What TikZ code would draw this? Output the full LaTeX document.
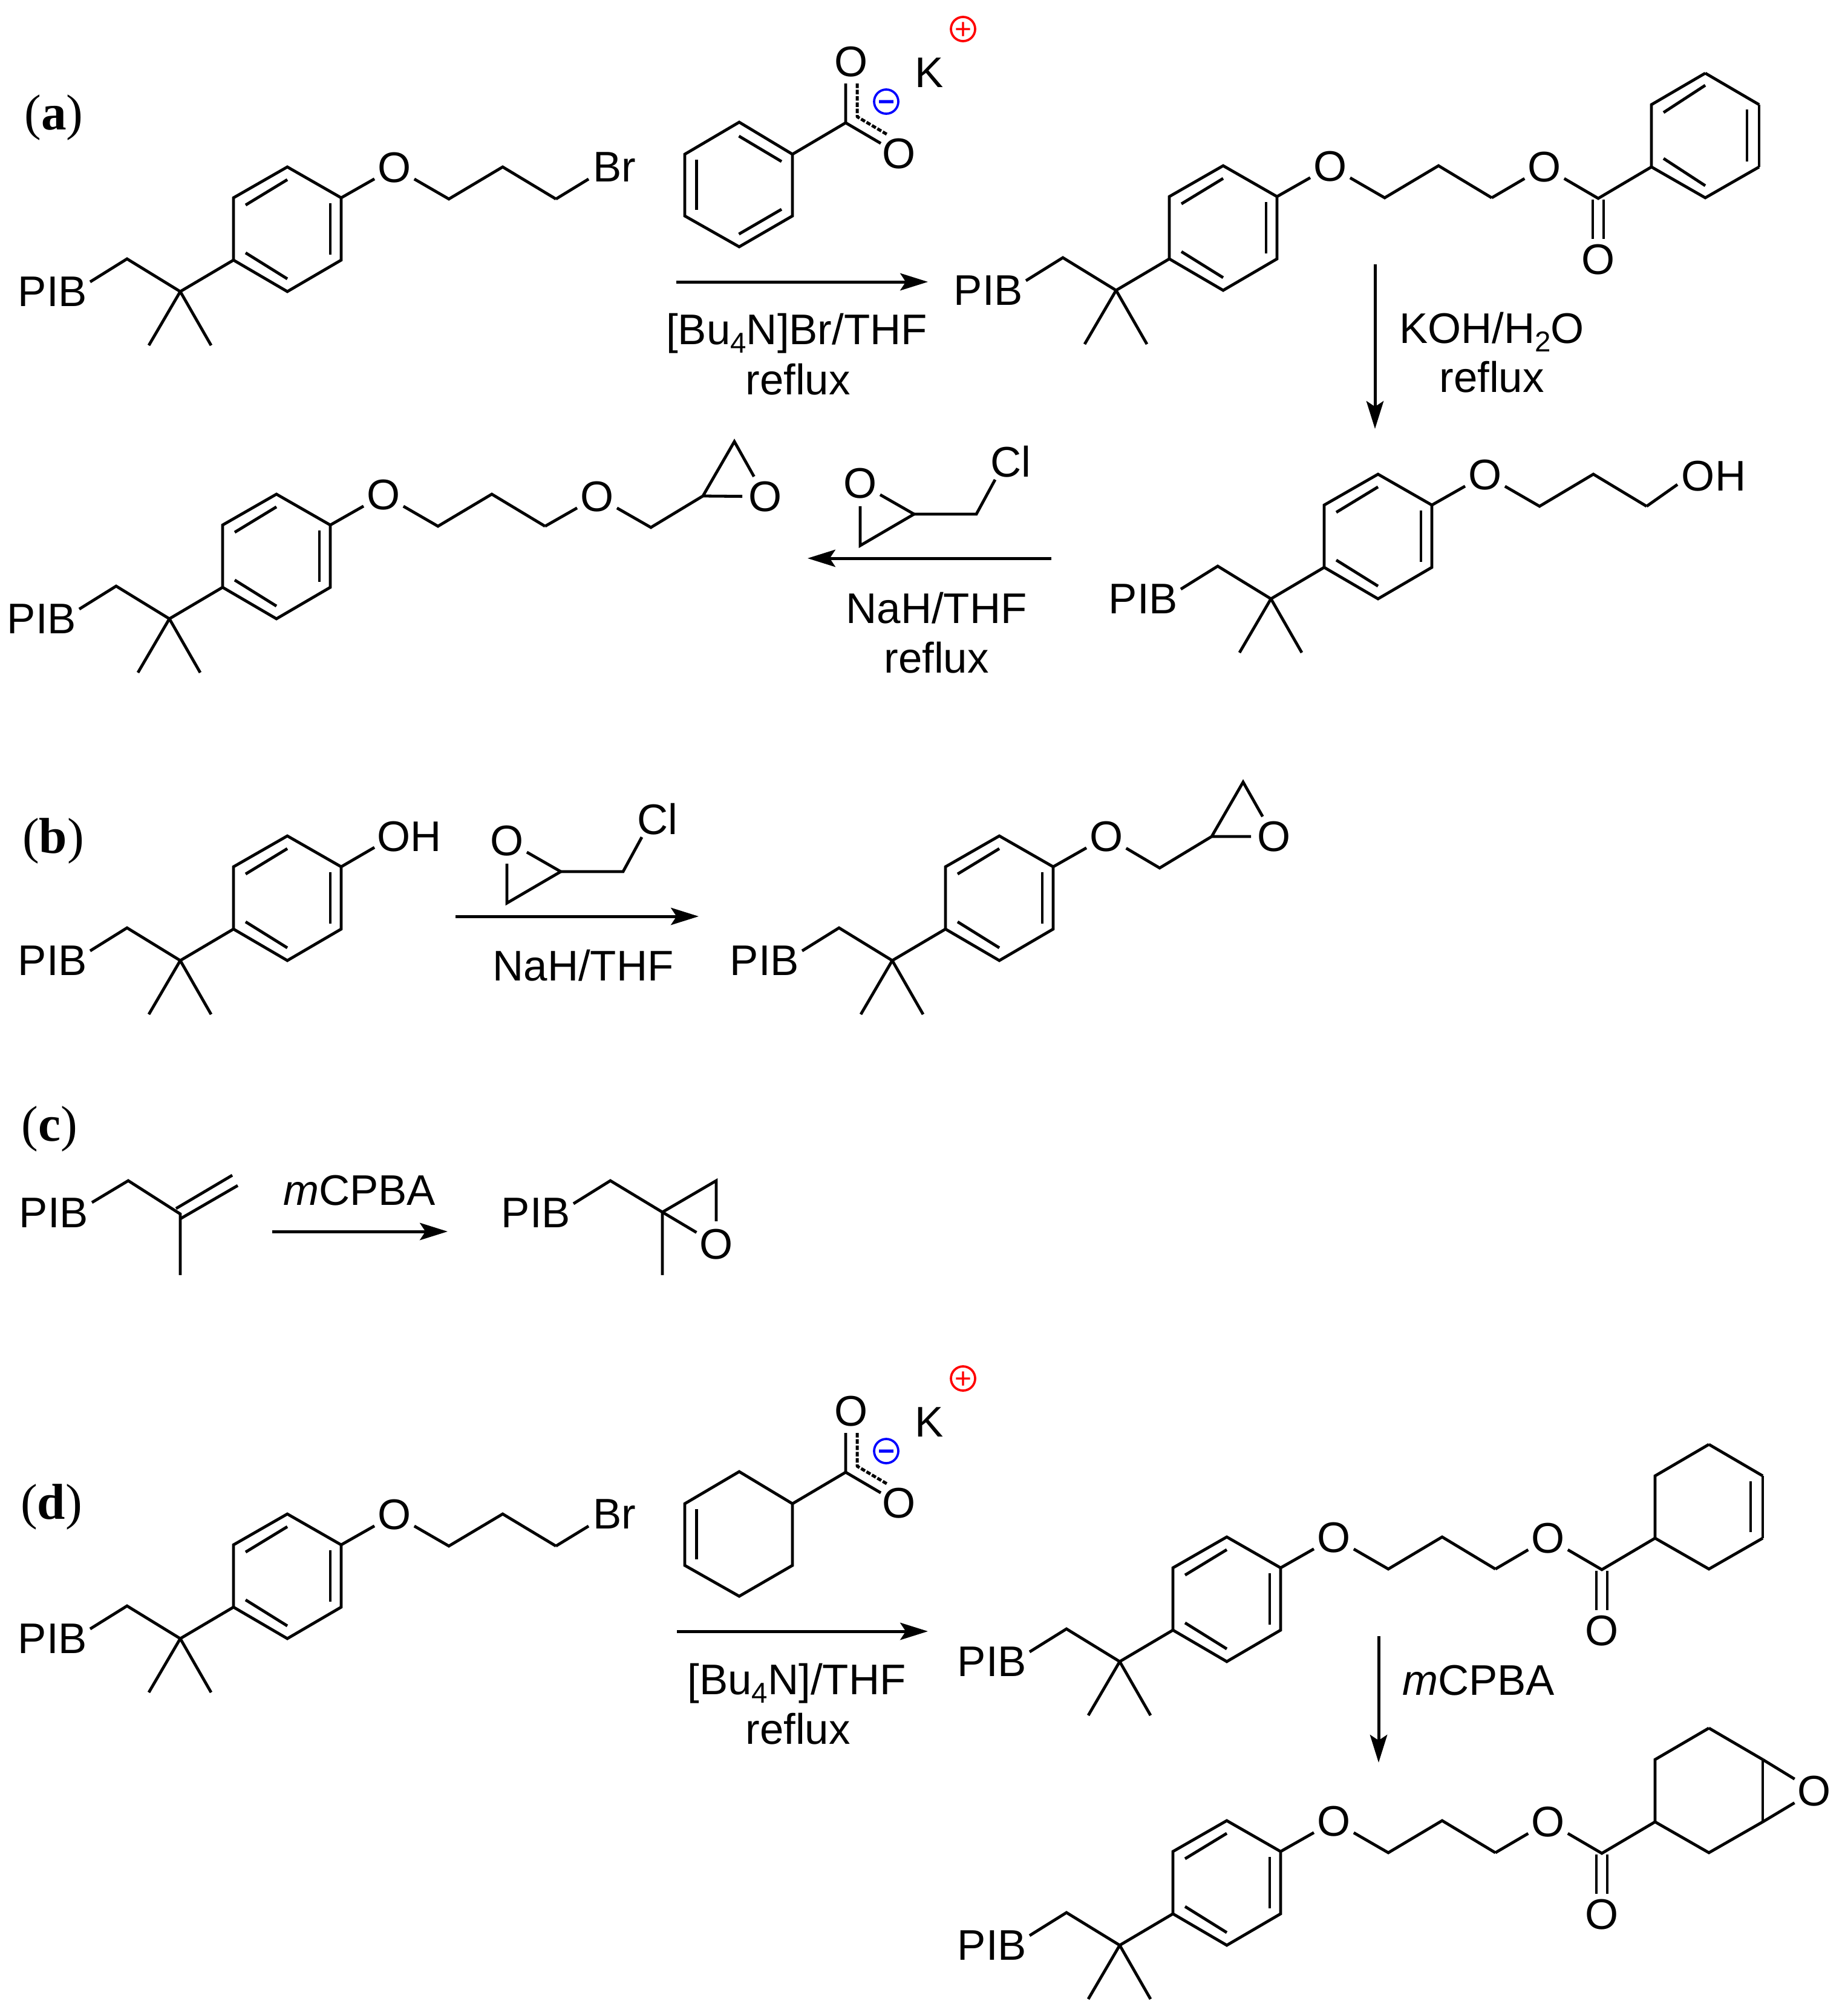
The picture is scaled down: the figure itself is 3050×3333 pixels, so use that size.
\documentclass[tikz,border=0pt]{standalone}
\usepackage{fontspec}
\setmainfont{Liberation Sans}
\newfontfamily\serifL{Liberation Serif}
\usetikzlibrary{arrows.meta}
\newcommand{\sbn}[1]{\raisebox{-0.2em}{\fontsize{11.4pt}{12pt}\selectfont #1}}
\newcommand{\chg}[1]{\makebox[0pt]{\smash{\raisebox{-0.35em}{#1}}}}
\tikzset{
  bond/.style={line width=1.15pt,line join=miter,black},
  chem/.style={font=\fontsize{17pt}{20pt}\selectfont,inner sep=0pt,text=black},
  atom/.style={chem,circle,minimum size=17.8pt},
  lab/.style={chem,rectangle},
  caption/.style={chem,anchor=base},
  part/.style={font=\fontsize{20pt}{24pt}\serifL\selectfont,inner sep=0pt},
  rxn/.style={line width=1.2pt,-{Stealth[length=11pt,width=6.8pt,inset=2.2pt]}},
  molframe/.style n args={3}{shift={(#2,#3)},name prefix=#1-},
  dashbond/.style={line width=1.2pt,dash pattern=on 1.8pt off 0.7pt,line join=round},
  poschg/.style={circle,draw=red,line width=0.9pt,text=red,minimum size=9.6pt,inner sep=0pt,
     font=\fontsize{11.5pt}{12pt}\selectfont},
  negchg/.style={circle,draw=blue,line width=0.9pt,text=blue,minimum size=9.6pt,inner sep=0pt,
     font=\fontsize{11.5pt}{12pt}\selectfont\bfseries},
}
% PIB-CH2-C(Me)2-C6H4 core, origin on the quaternary carbon
\newcommand{\corePIB}{%
  \coordinate (Q) at (0,0);
  \coordinate (M) at (-88,-54);
  \coordinate (Pe) at (-149,-16);
  \coordinate (Me1) at (-52,89);
  \coordinate (Me2) at (51,89);
  \coordinate (r1) at (88,-52);
  \coordinate (r2) at (177,0);
  \coordinate (r3) at (266,-52);
  \coordinate (r4) at (266,-155);
  \coordinate (r5) at (177,-206);
  \coordinate (r6) at (88,-155);
  \coordinate (i1) at (108,-64);
  \coordinate (i2) at (177,-21);
  \coordinate (i3) at (248,-61);
  \coordinate (i4) at (248,-146);
  \coordinate (i5) at (177,-185);
  \coordinate (i6) at (108,-143);
  \node[lab] (PIB) at (-211,0) {PIB};
  \draw[bond] (Pe) -- (M) -- (Q) -- (Me1);
  \draw[bond] (Q) -- (Me2);
  \draw[bond] (Q) -- (r1);
  \draw[bond] (r1) -- (r2) -- (r3) -- (r4) -- (r5) -- (r6) -- cycle;
  \draw[bond] (i1) -- (i2);
  \draw[bond] (i3) -- (i4);
  \draw[bond] (i5) -- (i6);
}
\newcommand{\etherO}{%
  \node[atom] (O) at (354,-205) {O};
  \draw[bond] (r4) -- (O);
}
\newcommand{\propylarm}{%
  \coordinate (c1) at (444,-153);
  \coordinate (c2) at (533,-206);
  \coordinate (c3) at (621,-153);
  \draw[bond] (O) -- (c1) -- (c2) -- (c3);
}
\newcommand{\esterarm}{%
  \node[atom] (O2) at (708,-204) {O};
  \coordinate (CO) at (797,-152);
  \node[atom] (Od) at (797,-51) {O};
  \coordinate (dl1) at (788,-150);
  \coordinate (dl2) at (788,-85);
  \coordinate (dr1) at (806,-150);
  \coordinate (dr2) at (806,-85);
  \coordinate (e1) at (885,-204);
  \coordinate (e2) at (885,-307);
  \coordinate (e3) at (974,-359);
  \coordinate (e4) at (1063,-307);
  \coordinate (e5) at (1063,-204);
  \coordinate (e6) at (974,-153);
  \draw[bond] (c3) -- (O2) -- (CO) -- (e1);
  \draw[bond] (dl1) -- (dl2);
  \draw[bond] (dr1) -- (dr2);
  \draw[bond] (e1) -- (e2) -- (e3);
  \draw[bond] (e4) -- (e5);
  \draw[bond] (e5) -- (e6) -- (e1);
}
% potassium carboxylate reagent
\newcommand{\salt}{%
  \coordinate (s1) at (1222,202);
  \coordinate (s2) at (1310,255);
  \coordinate (s3) at (1310,357);
  \coordinate (s4) at (1222,408);
  \coordinate (s5) at (1132,357);
  \coordinate (s6) at (1132,255);
  \coordinate (sC) at (1398,203);
  \coordinate (sT) at (1398,138);
  \coordinate (sL) at (1456,237);
  \coordinate (sd1) at (1417,138);
  \coordinate (sd2) at (1417,193);
  \coordinate (sd3) at (1466,222);
  \coordinate (si1) at (1151.5,264);
  \coordinate (si2) at (1151.5,347);
  \node[atom] (sO1) at (1407,102) {O};
  \node[atom] (sO2) at (1486,254) {O};
  \node[lab] (sK) at (1536,120) {K};
  \node[poschg] (sP) at (1592,48) {\chg{+}};
  \node[negchg] (sN) at (1465,168) {\chg{−}};
  \draw[bond] (s1) -- (s2) -- (s3) -- (s4) -- (s5) -- (s6) -- cycle;
  \draw[bond] (si1) -- (si2);
  \draw[bond] (s2) -- (sC) -- (sT);
  \draw[bond] (sC) -- (sL);
  \draw[dashbond] (sd1) -- (sd2) -- (sd3);
}
% epichlorohydrin, origin on its O
\newcommand{\epichloro}{%
  \node[atom] (eO) at (0,0) {O};
  \coordinate (eC) at (89,51);
  \coordinate (eM) at (192,51);
  \coordinate (eB) at (0,103);
  \coordinate (eE) at (223,-6);
  \node[lab] (eCl) at (249,-36) {Cl};
  \draw[bond] (eO) -- (eB) -- (eC) -- (eO);
  \draw[bond] (eC) -- (eM) -- (eE);
}
% glycidyl arm
\newcommand{\epoxyarm}[5]{%
  \coordinate (g1) at (#1);
  \coordinate (g2) at (#2);
  \coordinate (g3) at (#3);
  \node[atom] (g4) at (#4) {O};
  \draw[bond] (#5) -- (g1) -- (g2) -- (g3) -- (g4) -- (g2);
}
\begin{document}
\begin{tikzpicture}[x=0.24pt,y=-0.24pt]
\useasboundingbox (0,0) rectangle (3050,3333);
\fill[white] (0,0) rectangle (3050,3333);

% part labels
\node[part] (la) at (89,194) {(\textbf{a})};
\node[part] (lb) at (88,1390) {(\textbf{b})};
\node[part] (lc) at (82,1866) {(\textbf{c})};
\node[part] (ld) at (85,2491) {(\textbf{d})};

% ---------- (a)
\begin{scope}[molframe={a1}{298}{482}]
  \corePIB \etherO \propylarm
  \coordinate (Be) at (675,-186);
  \node[lab] (Br) at (718,-206) {Br};
  \draw[bond] (c3) -- (Be);
\end{scope}
\begin{scope}[name prefix=as-]
  \salt
  \coordinate (i1) at (1221.5,225);
  \coordinate (i2) at (1292,267);
  \coordinate (i3) at (1221.5,387);
  \coordinate (i4) at (1292,346);
  \draw[bond] (i1) -- (i2);
  \draw[bond] (i3) -- (i4);
\end{scope}
\coordinate (A1s) at (1118,466); \coordinate (A1e) at (1534,466);
\draw[rxn] (A1s) -- (A1e);
\node[caption] (t1) at (1317,569) {[Bu\sbn{4}N]Br/THF};
\node[caption] (t2) at (1319,652) {reflux};

\begin{scope}[molframe={a2}{1845}{480}]
  \corePIB \etherO \propylarm \esterarm
  \coordinate (j1) at (905,-294);
  \coordinate (j2) at (974,-339);
  \coordinate (j3) at (1043,-299);
  \coordinate (j4) at (1043,-213);
  \coordinate (j5) at (974,-173);
  \coordinate (j6) at (905,-218);
  \draw[bond] (e3) -- (e4);
  \draw[bond] (j1) -- (j2);
  \draw[bond] (j3) -- (j4);
  \draw[bond] (j5) -- (j6);
\end{scope}
\coordinate (A2s) at (2273,437); \coordinate (A2e) at (2273,709);
\draw[rxn] (A2s) -- (A2e);
\node[caption] (t3) at (2466,567) {KOH/H\sbn{2}O};
\node[caption] (t4) at (2466,648) {reflux};

\begin{scope}[molframe={a3}{2101}{990}]
  \corePIB \etherO \propylarm
  \coordinate (He) at (672,-189);
  \node[lab] (OH) at (732,-203) {OH};
  \draw[bond] (c3) -- (He);
\end{scope}
\coordinate (A3s) at (1738,923); \coordinate (A3e) at (1335,923);
\draw[rxn] (A3s) -- (A3e);
\begin{scope}[molframe={ae}{1422}{799}]
  \epichloro
\end{scope}
\node[caption] (t5) at (1548,1030) {NaH/THF};
\node[caption] (t6) at (1548,1112) {reflux};

\begin{scope}[molframe={a4}{280}{1023}]
  \corePIB \etherO \propylarm
  \node[atom] (O2) at (707,-202) {O};
  \draw[bond] (c3) -- (O2);
  \epoxyarm{796,-151}{882,-203}{934,-293}{985,-202}{O2}
\end{scope}

% ---------- (b)
\begin{scope}[molframe={b1}{298}{1588}]
  \corePIB
  \coordinate (He) at (321,-187);
  \node[lab] (OH) at (379,-205) {OH};
  \draw[bond] (r4) -- (He);
\end{scope}
\begin{scope}[molframe={be}{838}{1390}]
  \epichloro
\end{scope}
\coordinate (Bs) at (753,1515); \coordinate (Be) at (1155,1515);
\draw[rxn] (Bs) -- (Be);
\node[caption] (t7) at (964,1621) {NaH/THF};
\begin{scope}[molframe={b2}{1475}{1588}]
  \corePIB \etherO
  \epoxyarm{442,-153}{528,-205}{580,-295}{631,-205}{O}
\end{scope}

% ---------- (c)
\begin{scope}[name prefix=c1-]
  \node[lab] (PIB) at (89,2005) {PIB};
  \coordinate (Pe) at (152,1988);
  \coordinate (M) at (212,1952);
  \coordinate (C) at (298,2007);
  \coordinate (Me) at (298,2108);
  \coordinate (d1) at (291,1998);
  \coordinate (d2) at (384,1943);
  \coordinate (d3) at (298,2015);
  \coordinate (d4) at (393,1960);
  \draw[bond] (Pe) -- (M) -- (C) -- (Me);
  \draw[bond] (d1) -- (d2);
  \draw[bond] (d3) -- (d4);
\end{scope}
\coordinate (Cs) at (450,2036); \coordinate (Ce) at (740,2036);
\draw[rxn] (Cs) -- (Ce);
\node[caption] (t8) at (594,1992) {{\itshape m}CPBA};
\begin{scope}[name prefix=c2-]
  \node[lab] (PIB) at (886,2005) {PIB};
  \coordinate (Pe) at (948,1990);
  \coordinate (M) at (1009,1952);
  \coordinate (C) at (1095,2004);
  \coordinate (Me) at (1095,2108);
  \coordinate (T) at (1184,1952);
  \node[atom] (O) at (1184,2057) {O};
  \draw[bond] (Pe) -- (M) -- (C) -- (Me);
  \draw[bond] (C) -- (T) -- (O) -- (C);
\end{scope}

% ---------- (d)
\begin{scope}[molframe={d1}{298}{2709}]
  \corePIB \etherO \propylarm
  \coordinate (Be) at (675,-186);
  \node[lab] (Br) at (718,-206) {Br};
  \draw[bond] (c3) -- (Be);
\end{scope}
\begin{scope}[shift={(0,2231)},name prefix=ds-]
  \salt
\end{scope}
\coordinate (D1s) at (1119,2697); \coordinate (D1e) at (1534,2697);
\draw[rxn] (D1s) -- (D1e);
\node[caption] (t9) at (1317,2801) {[Bu\sbn{4}N]/THF};
\node[caption] (t10) at (1319,2883) {reflux};

\begin{scope}[molframe={d2}{1851}{2747}]
  \corePIB \etherO \propylarm \esterarm
  \coordinate (k1) at (1043,-298);
  \coordinate (k2) at (1043,-214);
  \draw[bond] (e3) -- (e4);
  \draw[bond] (k1) -- (k2);
\end{scope}
\coordinate (D2s) at (2279,2705); \coordinate (D2e) at (2279,2914);
\draw[rxn] (D2s) -- (D2e);
\node[caption] (t11) at (2444,2802) {{\itshape m}CPBA};

\begin{scope}[molframe={d3}{1851}{3216}]
  \corePIB \etherO \propylarm \esterarm
  \node[atom] (Ox) at (1148,-255) {O};
  \draw[bond] (e3) -- (e4);
  \draw[bond] (e4) -- (Ox) -- (e5);
\end{scope}
\end{tikzpicture}
\end{document}
